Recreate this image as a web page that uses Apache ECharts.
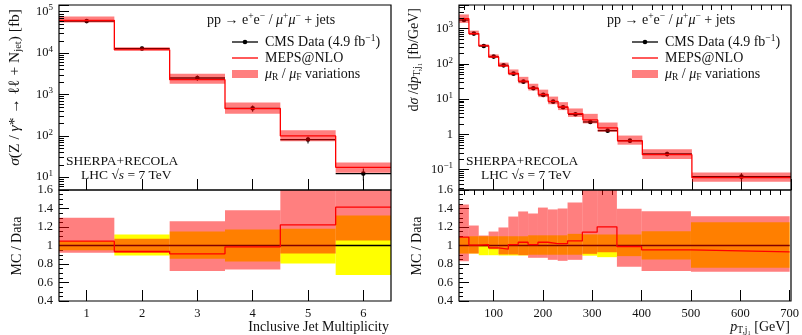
<!DOCTYPE html>
<html>
<head>
<meta charset="utf-8">
<script src="https://cdn.jsdelivr.net/npm/echarts@6/dist/echarts.min.js"></script>
<style>
  html, body { margin: 0; padding: 0; background: #fff; }
  #chart { width: 802px; height: 335px; }
</style>
</head>
<body>
<div id="chart"></div>
<script>
// ---- left panel: inclusive jet multiplicity ----
const njetEdges = [0.5, 1.5, 2.5, 3.5, 4.5, 5.5, 6.5];
const njetTicks = [1, 2, 3, 4, 5, 6];
const njetData = [59000, 12800, 2490, 461, 81, 12.2];          // fb
const njetDataLo = [0.95, 0.892, 0.856, 0.827, 0.805, 0.68];    // data band / data
const njetDataHi = [1.05, 1.119, 1.151, 1.173, 1.18, 1.324];
const njetMc = [1.047, 0.935, 0.91, 0.986, 1.223, 1.414];       // MC / data
const njetMcLo = [0.921, 0.92, 0.723, 0.741, 0.914, 1.054];
const njetMcHi = [1.299, 1.072, 1.263, 1.382, 1.67, 1.85];

// ---- right panel: leading jet pT ----
const ptEdges = [30, 50, 70, 90, 110, 130, 150, 170, 190, 210, 230, 250, 280, 310, 350, 400, 500, 700];
const ptTicks = [100, 200, 300, 400, 500, 600, 700];
const ptMinorTicks = [40, 60, 80, 120, 140, 160, 180, 220, 240, 260, 280, 320, 340, 360, 380,
  420, 440, 460, 480, 520, 540, 560, 580, 620, 640, 660, 680];
const ptData = [1740, 718, 321, 160, 90.5, 52.6, 31.2, 20.2, 13.1, 8.45, 5.83, 3.69, 2.24, 1.27, 0.66, 0.277, 0.063];
const ptDataLo = [0.913, 0.913, 0.895, 0.895, 0.892, 0.892, 0.892, 0.9, 0.9, 0.9, 0.9, 0.9, 0.89, 0.874, 0.885, 0.849, 0.759];
const ptDataHi = [1.09, 1.1, 1.1, 1.1, 1.1, 1.1, 1.1, 1.11, 1.11, 1.11, 1.11, 1.126, 1.12, 1.119, 1.119, 1.155, 1.252];
const ptMc = [1.09, 1.005, 1.01, 0.975, 0.96, 1.01, 1.035, 1.01, 1.035, 1.02, 1.02, 1.05, 1.144, 1.202, 0.989, 0.953, 0.932];
const ptMcLo = [0.83, 0.913, 0.99, 0.96, 0.903, 0.903, 0.895, 0.867, 0.867, 0.845, 0.834, 0.845, 0.91, 0.928, 0.769, 0.723, 0.715];
const ptMcHi = [1.443, 1.216, 1.108, 1.151, 1.195, 1.313, 1.368, 1.346, 1.41, 1.39, 1.4, 1.465, 1.7, 1.7, 1.396, 1.371, 1.317];

const FONT = 'Liberation Serif';
const INK = '#111';
const PINK = 'rgba(255,0,0,0.5)';

const grids = [
  { left: 59, top: 5, width: 332, height: 185 },
  { left: 59, top: 190, width: 332, height: 111 },
  { left: 459, top: 5, width: 332, height: 185 },
  { left: 459, top: 190, width: 332, height: 111 },
];

const mul = (a, b) => a.map((v, i) => v * b[i]);

function logLabel(v) {
  const l = Math.log10(v);
  const e = Math.round(l);
  if (Math.abs(l - e) > 1e-6) return '';
  if (e === 0) return '1';
  return '10{s|' + (e < 0 ? '\u2212' + (-e) : e) + '}';
}

function xAxis(gi, min, max, ticks, len, labels) {
  return {
    type: 'value', gridIndex: gi, min, max,
    axisLine: { show: false }, splitLine: { show: false },
    axisTick: { inside: true, length: len, customValues: ticks, lineStyle: { color: '#000', width: 1 } },
    axisLabel: labels
      ? { customValues: ticks, margin: 6, fontFamily: FONT, fontSize: 12.5, color: INK }
      : { show: false },
  };
}

function logAxis(gi, min, max) {
  return {
    type: 'log', gridIndex: gi, min, max, logBase: 10,
    axisLine: { show: false }, splitLine: { show: false },
    axisTick: { inside: true, length: 10, lineStyle: { color: '#000' } },
    axisLabel: {
      margin: 6, fontFamily: FONT, fontSize: 12.5, color: INK, formatter: logLabel,
      rich: { s: { fontFamily: FONT, fontSize: 9, color: INK, padding: [0, 0, 7, 0] } },
    },
  };
}

function ratioAxis(gi) {
  return {
    type: 'value', gridIndex: gi, min: 0.4, max: 1.6, interval: 0.2,
    axisLine: { show: false }, splitLine: { show: false },
    axisTick: { inside: true, length: 10, lineStyle: { color: '#000' } },
    minorTick: { show: true, splitNumber: 4, length: 4, lineStyle: { color: '#000' } },
    axisLabel: { margin: 6, fontFamily: FONT, fontSize: 12.5, color: INK, formatter: (v) => String(+v.toFixed(1)) },
  };
}

// boxes between lo and hi over each bin
function bandSeries(xi, edges, lo, hi, color, z) {
  return {
    type: 'custom', xAxisIndex: xi, yAxisIndex: xi, z, silent: true,
    data: lo.map((l, i) => [edges[i], edges[i + 1], l, hi[i]]),
    encode: { x: [0, 1], y: [2, 3] },
    renderItem: (params, api) => {
      const p0 = api.coord([api.value(0), api.value(3)]);
      const p1 = api.coord([api.value(1), api.value(2)]);
      const shape = echarts.graphic.clipRectByRect(
        { x: p0[0], y: p0[1], width: p1[0] - p0[0], height: p1[1] - p0[1] },
        { x: params.coordSys.x, y: params.coordSys.y, width: params.coordSys.width, height: params.coordSys.height });
      return shape && { type: 'rect', shape, style: { fill: color } };
    },
  };
}

function stepSeries(xi, edges, vals, color, width, z) {
  const pts = vals.map((v, i) => [edges[i], v]);
  pts.push([edges[edges.length - 1], vals[vals.length - 1]]);
  return {
    type: 'line', xAxisIndex: xi, yAxisIndex: xi, z, step: 'end', data: pts,
    symbol: 'none', silent: true, lineStyle: { color, width }, clip: true,
  };
}

// data: horizontal bar over the bin, vertical error bar, dot
function dataSeries(xi, edges, vals, lo, hi, z) {
  return {
    type: 'custom', xAxisIndex: xi, yAxisIndex: xi, z, silent: true,
    data: vals.map((v, i) => [edges[i], edges[i + 1], v, v * lo[i], v * hi[i]]),
    encode: { x: [0, 1], y: [2, 3, 4] },
    renderItem: (params, api) => {
      const a = api.coord([api.value(0), api.value(2)]);
      const b = api.coord([api.value(1), api.value(2)]);
      const xc = (a[0] + b[0]) / 2;
      const top = api.coord([api.value(0), api.value(4)])[1];
      const bot = api.coord([api.value(0), api.value(3)])[1];
      return {
        type: 'group', children: [
          { type: 'line', shape: { x1: a[0], y1: a[1], x2: b[0], y2: b[1] }, style: { stroke: '#000', lineWidth: 1.3 } },
          { type: 'line', shape: { x1: xc, y1: top, x2: xc, y2: bot }, style: { stroke: '#000', lineWidth: 1 } },
          { type: 'circle', shape: { cx: xc, cy: a[1], r: 2.3 }, style: { fill: '#000' } },
        ],
      };
    },
  };
}

function ratioSeries(xi, edges, dLo, dHi, mc, mcLo, mcHi) {
  return [
    bandSeries(xi, edges, dLo, dHi, '#ffff00', 1),
    {
      type: 'line', xAxisIndex: xi, yAxisIndex: xi, z: 2, symbol: 'none', silent: true,
      data: [[edges[0], 1], [edges[edges.length - 1], 1]], lineStyle: { color: '#000', width: 1.3 },
    },
    bandSeries(xi, edges, mcLo, mcHi, PINK, 3),
    stepSeries(xi, edges, mc, '#ff0000', 1.3, 4),
  ];
}

const option = {
  animation: false,
  grid: grids.map((g) => Object.assign({ containLabel: false }, g)),
  xAxis: [
    xAxis(0, 0.5, 6.5, njetTicks, 11, false),
    xAxis(1, 0.5, 6.5, njetTicks, 11, true),
    xAxis(2, 30, 700, ptTicks, 11, false),
    xAxis(3, 30, 700, ptTicks, 11, true),
    xAxis(2, 30, 700, ptMinorTicks, 5, false),
    xAxis(3, 30, 700, ptMinorTicks, 5, false),
  ],
  yAxis: [
    logAxis(0, Math.pow(10, 0.69), Math.pow(10, 5.16)),
    ratioAxis(1),
    logAxis(2, Math.pow(10, -1.58), Math.pow(10, 3.668)),
    ratioAxis(3),
  ],
  series: [
    dataSeries(0, njetEdges, njetData, njetDataLo, njetDataHi, 1),
    bandSeries(0, njetEdges, mul(njetData, njetMcLo), mul(njetData, njetMcHi), PINK, 2),
    stepSeries(0, njetEdges, mul(njetData, njetMc), '#ff0000', 1.3, 3),
    ...ratioSeries(1, njetEdges, njetDataLo, njetDataHi, njetMc, njetMcLo, njetMcHi),
    dataSeries(2, ptEdges, ptData, ptDataLo, ptDataHi, 1),
    bandSeries(2, ptEdges, mul(ptData, ptMcLo), mul(ptData, ptMcHi), PINK, 2),
    stepSeries(2, ptEdges, mul(ptData, ptMc), '#ff0000', 1.3, 3),
    ...ratioSeries(3, ptEdges, ptDataLo, ptDataHi, ptMc, ptMcLo, ptMcHi),
  ],
};

const chart = echarts.init(document.getElementById('chart'));
chart.setOption(option);

function rich(size) {
  const base = { fontFamily: FONT, fill: INK, color: INK };
  return {
    i: Object.assign({}, base, { fontSize: size, fontStyle: 'italic' }),
    sup: Object.assign({}, base, { fontSize: size * 0.68, padding: [0, 0, size * 0.5, 0] }),
    sub: Object.assign({}, base, { fontSize: size * 0.68, padding: [size * 0.45, 0, 0, 0] }),
  };
}

function txt(x, y, text, align, size, rot) {
  return {
    type: 'text', x, y, rotation: rot || 0, z: 50, silent: true,
    style: {
      text, fontFamily: FONT, fontSize: size, fill: INK,
      align, textAlign: align, verticalAlign: 'middle', textVerticalAlign: 'middle',
      rich: rich(size),
    },
  };
}

const elements = [];

// frames
grids.forEach((g) => elements.push({
  type: 'rect', z: 60, silent: true,
  shape: { x: g.left, y: g.top, width: g.width, height: g.height },
  style: { fill: 'none', stroke: '#000', lineWidth: 1.2 },
}));

// minor ticks on the log axes
[[0, 59, 0.69, 5.16], [2, 459, -1.58, 3.668]].forEach(([yi, x0, lo, hi]) => {
  for (let e = Math.floor(lo); e <= Math.ceil(hi); e++) {
    for (let d = 2; d <= 9; d++) {
      const v = d * Math.pow(10, e);
      const l = Math.log10(v);
      if (l <= lo || l >= hi) continue;
      const y = Math.round(chart.convertToPixel({ yAxisIndex: yi }, v)) + 0.5;
      elements.push({ type: 'line', z: 55, silent: true, shape: { x1: x0, y1: y, x2: x0 + 5, y2: y }, style: { stroke: '#000', lineWidth: 1 } });
    }
  }
});

// legends and labels for both panels
[0, 400].forEach((dx) => {
  elements.push(txt(207 + dx, 20, 'pp \u2192 e{sup|+}e{sup|\u2212} / {i|\u03bc}{sup|+}{i|\u03bc}{sup|\u2212} + jets', 'left', 14));
  elements.push({ type: 'line', z: 50, silent: true, shape: { x1: 232 + dx, y1: 42, x2: 258 + dx, y2: 42 }, style: { stroke: '#000', lineWidth: 1.3 } });
  elements.push({ type: 'circle', z: 50, silent: true, shape: { cx: 245 + dx, cy: 42, r: 2.3 }, style: { fill: '#000' } });
  elements.push(txt(265 + dx, 42, 'CMS Data (4.9 fb{sup|\u22121})', 'left', 14));
  elements.push({ type: 'line', z: 50, silent: true, shape: { x1: 232 + dx, y1: 58, x2: 258 + dx, y2: 58 }, style: { stroke: '#ff0000', lineWidth: 1.3 } });
  elements.push(txt(265 + dx, 58, 'MEPS@NLO', 'left', 14));
  elements.push({ type: 'rect', z: 50, silent: true, shape: { x: 232 + dx, y: 70, width: 26, height: 8 }, style: { fill: PINK } });
  elements.push(txt(265 + dx, 74, '{i|\u03bc}{sub|R} / {i|\u03bc}{sub|F} variations', 'left', 14));
  elements.push(txt(66 + dx, 161, 'SHERPA+RECOLA', 'left', 13.5));
  elements.push(txt(81 + dx, 175, 'LHC \u221a{i|s} = 7 TeV', 'left', 13.5));
  elements.push(txt(17 + dx, 246, 'MC / Data', 'center', 14, Math.PI / 2));
});

elements.push(txt(15, 9, '{i|\u03c3}(Z / {i|\u03b3}* \u2192 \u2113\u2113 + N{sub|jet}) [fb]', 'right', 15.5, Math.PI / 2));
elements.push(txt(414, 8, 'd{i|\u03c3} /d{i|p}{sub|T,j\u2081} [fb/GeV]', 'right', 14, Math.PI / 2));
elements.push(txt(389, 327, 'Inclusive Jet Multiplicity', 'right', 14));
elements.push(txt(790, 327, '{i|p}{sub|T,j\u2081} [GeV]', 'right', 14));

chart.setOption({ graphic: { elements } });
</script>
</body>
</html>
